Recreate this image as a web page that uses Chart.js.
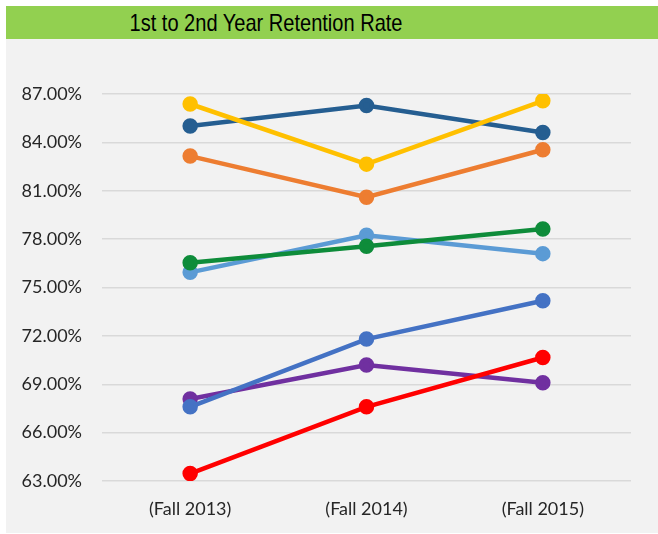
<!DOCTYPE html>
<html>
<head>
<meta charset="utf-8">
<script src="https://cdn.jsdelivr.net/npm/chart.js@4/dist/chart.umd.min.js"></script>
<style>
  html, body { margin: 0; padding: 0; background: #fff; }
  #wrap { position: relative; width: 658px; height: 534px; overflow: hidden; }
  #panel { position: absolute; left: 6px; top: 6px; right: 0; bottom: 1px; background: #f2f2f2; }
  #titlebar {
    position: absolute; left: 6px; top: 6px; right: 0; height: 33px;
    background: #92d050;
  }
  #titlebar span {
    position: absolute; left: 0; width: 520px; top: 0; line-height: 33px; text-align: center;
    font-family: "Liberation Sans", Arial, sans-serif;
    font-size: 24px; color: #000;
    transform: scaleX(0.835);
  }
  #chart { position: absolute; left: 0; top: 0; }
</style>
</head>
<body>
<div id="wrap">
  <div id="panel"></div>
  <div id="titlebar"><span>1st to 2nd Year Retention Rate</span></div>
  <canvas id="chart" width="658" height="534"></canvas>
</div>
<script>
// --- chart data ---
const terms = ['(Fall 2013)', '(Fall 2014)', '(Fall 2015)'];
const redSeries      = [63.46, 67.60, 70.66];
const blueSeries     = [67.60, 71.80, 74.18];
const purpleSeries   = [68.09, 70.19, 69.09];
const greenSeries    = [76.54, 77.56, 78.63];
const lightBlueSeries = [75.94, 78.24, 77.10];
const yellowSeries   = [86.38, 82.65, 86.58];
const navySeries     = [85.01, 86.29, 84.61];
const orangeSeries   = [83.15, 80.60, 83.54];
const yMin = 63, yMax = 87, yStep = 3;

const tickFont = { family: 'Lato, "Open Sans", sans-serif', size: 18 };

function line(label, data, color) {
  return {
    label, data,
    borderColor: color,
    backgroundColor: color,
    pointBackgroundColor: color,
    pointBorderColor: color,
    borderWidth: 4.5,
    pointRadius: 5.5,
    pointHoverRadius: 6,
    tension: 0,
  };
}

new Chart(document.getElementById('chart'), {
  type: 'line',
  data: {
    labels: terms,
    datasets: [
      line('Red', redSeries, '#ff0000'),
      line('Blue', blueSeries, '#4472c4'),
      line('Purple', purpleSeries, '#7030a0'),
      line('Green', greenSeries, '#0e8c3a'),
      line('Light blue', lightBlueSeries, '#5b9bd5'),
      line('Yellow', yellowSeries, '#ffc000'),
      line('Navy', navySeries, '#255e91'),
      line('Orange', orangeSeries, '#ed7d31'),
    ]
  },
  options: {
    responsive: false,
    animation: false,
    layout: { padding: { top: 94, right: 27, left: 0, bottom: 0 } },
    plugins: {
      legend: { display: false },
      tooltip: { enabled: false },
      title: { display: false }
    },
    scales: {
      x: {
        offset: true,
        grid: { display: false, drawTicks: false },
        border: { display: false },
        ticks: { color: '#262626', font: tickFont, padding: 17 },
        afterFit: s => { s.height = 53; }
      },
      y: {
        min: yMin, max: yMax,
        grid: { color: '#d9d9d9', lineWidth: 1.5, drawTicks: false },
        border: { display: false },
        ticks: {
          stepSize: yStep,
          color: '#262626', font: tickFont, padding: 20,
          callback: v => v.toFixed(2) + '%'
        },
        afterFit: s => { s.width = 102; }
      }
    }
  }
});
</script>
</body>
</html>
